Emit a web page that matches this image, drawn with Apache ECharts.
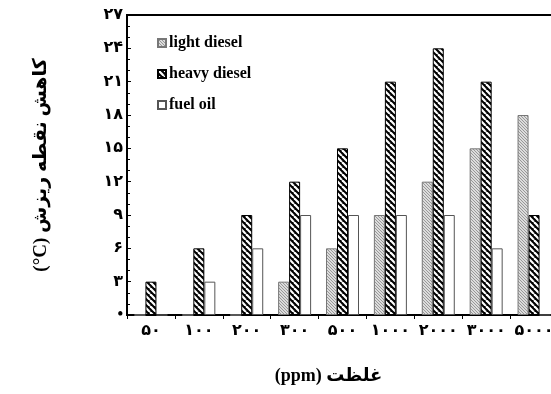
<!DOCTYPE html>
<html>
<head>
<meta charset="utf-8">
<script src="https://cdn.jsdelivr.net/npm/echarts@6/dist/echarts.min.js"></script>
<style>
  html, body { margin: 0; padding: 0; background: #fff; }
  #chart { width: 551px; height: 394px; }
</style>
</head>
<body>
<div id="chart"></div>
<script>
// Concentration categories (ppm) and pour point reduction (°C)
const categories = ['۵۰', '۱۰۰', '۲۰۰', '۳۰۰', '۵۰۰', '۱۰۰۰', '۲۰۰۰', '۳۰۰۰', '۵۰۰۰'];
const lightDiesel = [0, 0, 0, 3, 6, 9, 12, 15, 18];
const heavyDiesel = [3, 6, 9, 12, 15, 21, 24, 21, 9];
const fuelOil     = [0, 3, 6, 9, 9, 9, 9, 6, 0];
const yTickLabels = ['•', '۳', '۶', '۹', '۱۲', '۱۵', '۱۸', '۲۱', '۲۴', '۲۷'];

// Axis titles, written in visual (left-to-right) order for the canvas
const xTitle = '(ppm) غلظت';
const yTitle = '(°C) کاهش نقطه ریزش';

// Hatch fill tiles
function hatch(size, bg, fg, lw) {
  const c = document.createElement('canvas');
  c.width = size; c.height = size;
  const g = c.getContext('2d');
  g.fillStyle = bg;
  g.fillRect(0, 0, size, size);
  g.strokeStyle = fg;
  g.lineWidth = lw;
  for (let k = -1; k <= 1; k++) {
    g.beginPath();
    g.moveTo(k * size, 0);
    g.lineTo(k * size + size, size);
    g.stroke();
  }
  return { image: c, repeat: 'repeat' };
}
const heavyFill = hatch(6, '#000', '#fff', 2.2);
const lightFill = hatch(3, '#dcdcdc', '#909090', 0.9);

const font = '"Liberation Serif", "DejaVu Sans", serif';

const chart = echarts.init(document.getElementById('chart'), null, { renderer: 'canvas' });
chart.setOption({
  animation: false,
  backgroundColor: '#fff',
  grid: {
    left: 127, top: 15, width: 431, bottom: 79,
    containLabel: false,
    outerBoundsMode: 'none',
    show: true, borderColor: '#000', borderWidth: 2, backgroundColor: 'transparent'
  },
  legend: {
    orient: 'vertical',
    left: 152, top: 30,
    itemWidth: 8, itemHeight: 8,
    itemGap: 15,
    icon: 'rect',
    textStyle: { fontFamily: font, fontWeight: 'bold', fontSize: 16, color: '#000', padding: [0, 0, 0, -2] },
    data: ['light diesel', 'heavy diesel', 'fuel oil']
  },
  xAxis: {
    type: 'category',
    data: categories,
    name: xTitle,
    nameLocation: 'middle',
    nameGap: 52,
    nameTextStyle: { fontFamily: font, fontWeight: 'bold', fontSize: 18, color: '#000', padding: [0, 28, 0, 0] },
    axisLine: { lineStyle: { color: '#000', width: 2 } },
    axisTick: { show: true, length: 4, lineStyle: { color: '#000', width: 1 } },
    axisLabel: { interval: 0, fontFamily: font, fontWeight: 'bold', fontSize: 16, color: '#000', margin: 8 },
    splitLine: { show: false }
  },
  yAxis: {
    type: 'value',
    min: 0, max: 27, interval: 3,
    name: yTitle,
    nameLocation: 'middle',
    nameGap: 76,
    nameRotate: 90,
    nameTextStyle: { fontFamily: font, fontWeight: 'bold', fontSize: 19, color: '#000' },
    axisLine: { show: true, lineStyle: { color: '#000', width: 2 } },
    axisTick: { show: true, inside: true, length: 4, lineStyle: { color: '#000', width: 1 } },
    minorTick: { show: true, splitNumber: 3, length: 3, lineStyle: { color: '#000', width: 1 } },
    axisLabel: {
      fontFamily: font, fontWeight: 'bold', fontSize: 16, color: '#000', margin: 4,
      formatter: function (v) { return yTickLabels[Math.round(v / 3)]; }
    },
    splitLine: { show: false }
  },
  series: [
    {
      name: 'light diesel', type: 'bar', data: lightDiesel,
      barWidth: 11, barGap: '0%',
      itemStyle: { color: lightFill, borderColor: '#777', borderWidth: 1 }
    },
    {
      name: 'heavy diesel', type: 'bar', data: heavyDiesel,
      barWidth: 11, barGap: '0%',
      itemStyle: { color: heavyFill, borderColor: '#000', borderWidth: 1 }
    },
    {
      name: 'fuel oil', type: 'bar', data: fuelOil,
      barWidth: 11, barGap: '0%',
      itemStyle: { color: '#fff', borderColor: '#555', borderWidth: 1 }
    }
  ]
});
</script>
</body>
</html>
